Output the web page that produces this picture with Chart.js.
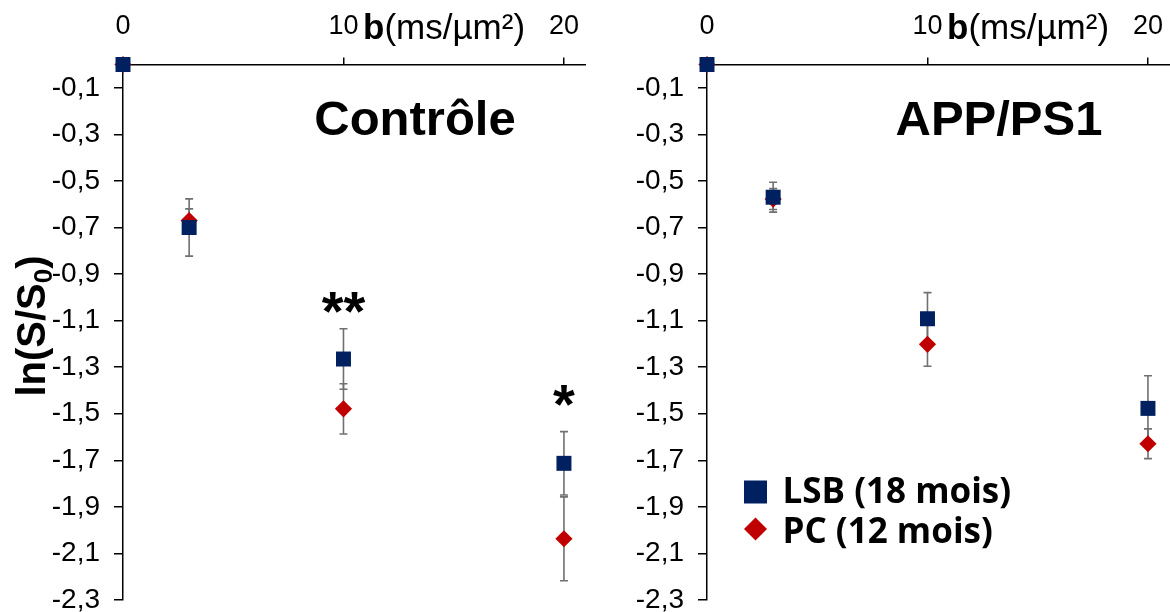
<!DOCTYPE html>
<html>
<head>
<meta charset="utf-8">
<script src="https://cdn.jsdelivr.net/npm/chart.js@4.4.1/dist/chart.umd.min.js"></script>
<style>
    html, body { margin: 0; padding: 0; background: #fff; }
    #wrap { position: relative; width: 1170px; height: 612px; overflow: hidden; background: #fff; }
    canvas { position: absolute; top: 0; }
    #chartCtrl { left: 0; }
    #chartApp { left: 584px; }
</style>
</head>
<body>
<div id="wrap">
    <canvas id="chartCtrl" width="586" height="612"></canvas>
    <canvas id="chartApp" width="586" height="612"></canvas>
</div>
<script>
// Data
const bValues = [0, 3, 10, 20];
const xTicks = [0, 10, 20];
const yTicks = [-2.3, -2.1, -1.9, -1.7, -1.5, -1.3, -1.1, -0.9, -0.7, -0.5, -0.3, -0.1];

// Contrôle
const ctrlLSB = [0, -0.70, -1.265, -1.713];
const ctrlLSBErr = [0, 0.123, 0.13, 0.136];
const ctrlPC = [0, -0.67, -1.479, -2.037];
const ctrlPCErr = [0, 0.05, 0.108, 0.18];

// APP/PS1
const appLSB = [0, -0.570, -1.092, -1.477];
const appLSBErr = [0, 0.064, 0.112, 0.14];
const appPC = [0, -0.578, -1.202, -1.629];
const appPCErr = [0, 0.045, 0.094, 0.064];

// Significance marks (Contrôle panel)
const starB = [10, 20];
const starY = [-1.14, -1.54];
const starText = ['**', '*'];

const LSB_LABEL = 'LSB (18 mois)';
const PC_LABEL = 'PC (12 mois)';
const BLUE = '#002060';
const RED = '#C00000';
const FONT = '"Liberation Sans", Arial, sans-serif';

const toPoints = (xs, ys) => xs.map((x, i) => ({ x: x, y: ys[i] }));

// Error bars drawn under the markers
const errorBars = {
    id: 'errorBars',
    beforeDatasetsDraw(chart) {
        const ctx = chart.ctx;
        const xs = chart.scales.x, ys = chart.scales.y;
        ctx.save();
        ctx.strokeStyle = '#707070';
        ctx.lineWidth = 1.6;
        chart.data.datasets.forEach(ds => {
            ds.data.forEach((p, i) => {
                const e = ds.errors[i];
                if (!e) return;
                const px = xs.getPixelForValue(p.x);
                const top = ys.getPixelForValue(p.y + e);
                const bot = ys.getPixelForValue(p.y - e);
                ctx.beginPath();
                ctx.moveTo(px, top); ctx.lineTo(px, bot);
                ctx.moveTo(px - 4, top); ctx.lineTo(px + 4, top);
                ctx.moveTo(px - 4, bot); ctx.lineTo(px + 4, bot);
                ctx.stroke();
            });
        });
        ctx.restore();
    }
};

// Titles, axis labels, stars, legend
const panelDecor = {
    id: 'panelDecor',
    afterDraw(chart, args, opts) {
        const { ctx, chartArea, scales } = chart;
        ctx.save();
        ctx.fillStyle = '#000';
        ctx.textBaseline = 'alphabetic';

        // panel title
        ctx.font = 'bold 49px ' + FONT;
        ctx.textAlign = 'center';
        ctx.fillText(opts.title, chartArea.left + 292, 135);

        // x axis title: b(ms/µm²)
        ctx.textAlign = 'left';
        let tx = chartArea.left + 240;
        ctx.font = 'bold 35px ' + FONT;
        ctx.fillText('b', tx, 39);
        tx += ctx.measureText('b').width;
        ctx.font = '35px ' + FONT;
        ctx.fillText('(ms/µm²)', tx, 39);

        // significance stars
        if (opts.stars) {
            ctx.font = 'bold 56px ' + FONT;
            ctx.textAlign = 'center';
            starB.forEach((b, i) => {
                ctx.fillText(starText[i], scales.x.getPixelForValue(b), scales.y.getPixelForValue(starY[i]));
            });
        }

        // y axis title ln(S/S0)
        if (opts.yTitle) {
            ctx.translate(31, 326);
            ctx.rotate(-Math.PI / 2);
            const big = 'bold 40px ' + FONT, small = 'bold 26px ' + FONT;
            ctx.font = big;
            const w1 = ctx.measureText('ln(S/S').width, w3 = ctx.measureText(')').width;
            ctx.font = small;
            const w2 = ctx.measureText('0').width;
            let sx = -(w1 + w2 + w3) / 2;
            ctx.textAlign = 'left';
            ctx.font = big;
            ctx.fillText('ln(S/S', sx, 14);
            ctx.font = small;
            ctx.fillText('0', sx + w1, 21);
            ctx.font = big;
            ctx.fillText(')', sx + w1 + w2, 14);
            ctx.setTransform(1, 0, 0, 1, 0, 0);
        }

        // legend
        if (opts.legend) {
            const lx = chartArea.left + 48.5;
            const rows = [492, 529];
            ctx.font = 'bold 35px "Open Sans", sans-serif';
            ctx.textAlign = 'left';
            chart.data.datasets.forEach((ds, i) => {
                const cy = rows[i];
                ctx.fillStyle = ds.backgroundColor;
                ctx.beginPath();
                if (ds.pointStyle === 'rect') {
                    ctx.rect(lx - 11.5, cy - 11.5, 23, 23);
                } else {
                    ctx.moveTo(lx - 11.5, cy); ctx.lineTo(lx, cy - 11.5);
                    ctx.lineTo(lx + 11.5, cy); ctx.lineTo(lx, cy + 11.5);
                    ctx.closePath();
                }
                ctx.fill();
                ctx.fillStyle = '#000';
                ctx.fillText(ds.label, lx + 27, cy + (i === 0 ? 11 : 14));
            });
        }
        ctx.restore();
    }
};

function makePanel(canvasId, title, lsb, lsbErr, pc, pcErr, extra) {
    const ctx = document.getElementById(canvasId).getContext('2d');
    return new Chart(ctx, {
        type: 'scatter',
        data: {
            datasets: [{
                label: LSB_LABEL,
                data: toPoints(bValues, lsb),
                errors: lsbErr,
                pointStyle: 'rect',
                pointRadius: 10.6,
                backgroundColor: BLUE,
                borderColor: BLUE,
                borderWidth: 0,
                clip: false
            }, {
                label: PC_LABEL,
                data: toPoints(bValues, pc),
                errors: pcErr,
                pointStyle: 'rectRot',
                pointRadius: 8.6,
                backgroundColor: RED,
                borderColor: RED,
                borderWidth: 0,
                clip: false
            }]
        },
        options: {
            responsive: false,
            animation: false,
            layout: { autoPadding: false, padding: { left: 0, right: 0, top: 0, bottom: 12 } },
            plugins: {
                legend: { display: false },
                tooltip: { enabled: false },
                panelDecor: Object.assign({ title: title }, extra)
            },
            scales: {
                x: {
                    type: 'linear',
                    position: 'top',
                    min: 0,
                    max: 21,
                    afterBuildTicks: s => { s.ticks = xTicks.map(v => ({ value: v })); },
                    afterFit: s => { s.height = 64.5; s.paddingLeft = 0; s.paddingRight = 0; },
                    border: { display: true, color: '#000', width: 1.5 },
                    grid: { drawOnChartArea: false, drawTicks: true, tickLength: 7, color: '#000', lineWidth: 1.5 },
                    ticks: { color: '#000', padding: 15, font: { family: FONT, size: 27 }, maxRotation: 0 }
                },
                y: {
                    type: 'linear',
                    min: -2.3,
                    max: 0,
                    afterBuildTicks: s => { s.ticks = yTicks.map(v => ({ value: v })); },
                    afterFit: s => { s.width = 123; s.paddingTop = 0; s.paddingBottom = 0; },
                    border: { display: true, color: '#000', width: 1.5 },
                    grid: { drawOnChartArea: false, drawTicks: true, tickLength: 9, color: '#000', lineWidth: 1.5 },
                    ticks: {
                        color: '#000',
                        padding: 14,
                        font: { family: FONT, size: 28 },
                        callback: v => v.toFixed(1).replace('.', ',')
                    }
                }
            }
        },
        plugins: [errorBars, panelDecor]
    });
}

makePanel('chartCtrl', 'Contrôle', ctrlLSB, ctrlLSBErr, ctrlPC, ctrlPCErr, { stars: true, yTitle: true, legend: false });
makePanel('chartApp', 'APP/PS1', appLSB, appLSBErr, appPC, appPCErr, { stars: false, yTitle: false, legend: true });
</script>
</body>
</html>
